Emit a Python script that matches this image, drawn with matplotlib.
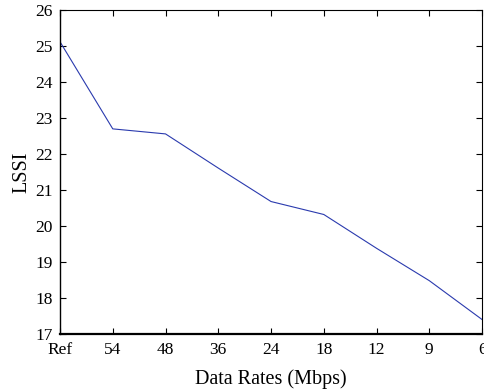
import matplotlib.pyplot as plt
import numpy as np

# LSSI against data rate
rates = ["Ref", "54", "48", "36", "24", "18", "12", "9", "6"]
lssi = [25.12, 22.70, 22.56, 21.61, 20.68, 20.32, 19.38, 18.48, 17.40]

plt.rcParams["font.family"] = ["Liberation Serif", "DejaVu Serif"]
plt.rcParams["font.size"] = 12.5

fig = plt.figure(figsize=(4.84, 3.91), dpi=100)
ax = fig.add_axes([0.124, 0.146, 0.872, 0.828])

x = np.arange(len(rates))
ax.plot(x, lssi, color="#2a3aae", linewidth=0.8)

ax.set_xlim(0, len(rates) - 1)
ax.set_ylim(17, 26)
ax.set_xticks(x)
ax.set_xticklabels(rates)
ax.set_yticks(np.arange(17, 27, 1))
ax.tick_params(direction="in", top=True, right=True, length=4, width=0.8)
ax.tick_params(axis="x", pad=6)
ax.tick_params(axis="y", pad=5)

for side in ["top", "right"]:
    ax.spines[side].set_linewidth(0.8)
ax.spines["left"].set_linewidth(1.0)
ax.spines["bottom"].set_linewidth(1.6)

ax.set_xlabel("Data Rates (Mbps)", fontsize=14.5, labelpad=8)
ax.set_ylabel("LSSI", fontsize=14.5, labelpad=3)

fig.savefig("out.png", dpi=100)
